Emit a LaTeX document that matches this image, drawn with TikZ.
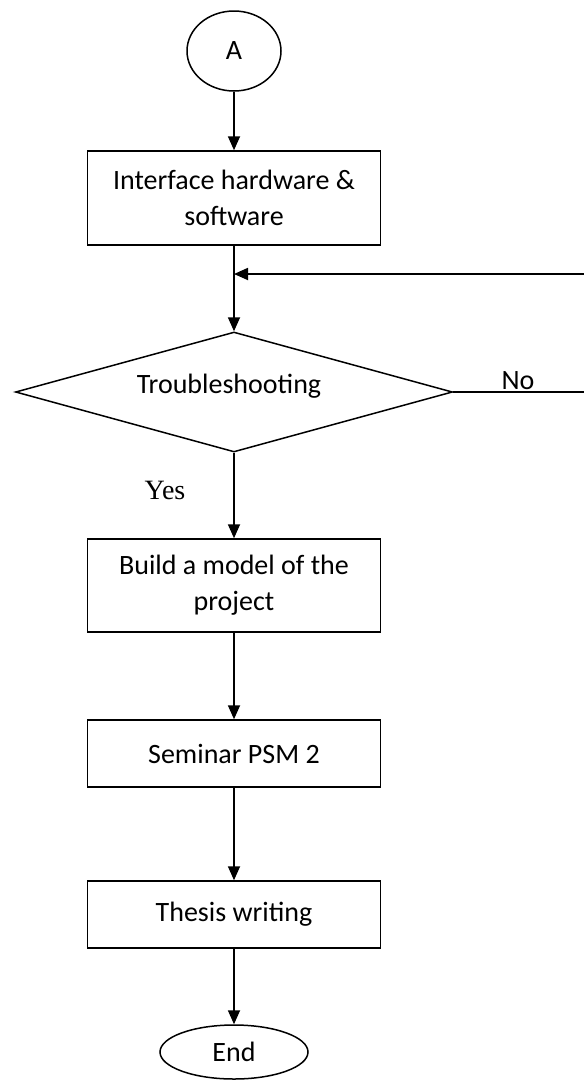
\documentclass[tikz,border=0pt]{standalone}
\usepackage{fontspec}
\setmainfont{Carlito}
\newfontfamily\serifword{Liberation Serif}
\usetikzlibrary{arrows.meta,shapes.geometric}
\begin{document}
\begin{tikzpicture}[x=1pt,y=-1pt,
  every node/.style={font=\fontsize{28}{36}\selectfont},
  stepbox/.style={draw,line width=1.5pt,minimum width=293pt,inner sep=0pt,align=center},
  terminal/.style={ellipse,draw,line width=1.5pt,inner sep=0pt},
  decision/.style={diamond,draw,line width=1.5pt,inner sep=0pt,aspect=3.64,
    minimum width=437pt,minimum height=120pt},
  flow/.style={line width=1.8pt,-{Triangle[length=14pt,width=12pt]}},
  plain/.style={line width=1.8pt}]
\useasboundingbox (0,0) rectangle (584,1080);

% process steps
\node[terminal,minimum width=94pt,minimum height=80pt] (A) at (234,51) {A};
\node[stepbox,minimum height=94pt] (b1) at (234,198) {Interface hardware \&\\software};
\node[decision] (D) at (234,392) {};
\node (Dtext) at (229,386) {Troubleshooting};
\node[stepbox,minimum height=93pt] (b2) at (234,585.5) {Build a model of the\\project};
\node[stepbox,minimum height=67pt] (b3) at (234,753.5) {Seminar PSM 2};
\node[stepbox,minimum height=67pt] (b4) at (234,914.5) {Thesis writing};
\node[terminal,minimum width=148pt,minimum height=54pt] (E) at (234,1052) {End};

% branch labels
\node (no) at (518,381) {No};
\node[font=\serifword\fontsize{28}{36}\selectfont] (yes) at (165,490) {Yes};

% loop-back junction and return path
\coordinate (fb) at (234,274);
\coordinate (r1) at (592,392);
\coordinate (r2) at (592,274);

% connectors
\draw[flow] (A) -- (b1);
\draw[plain] (b1) -- (fb);
\draw[flow] (fb) -- (D);
\draw[plain] (D.east) -- (r1) -- (r2);
\draw[flow] (r2) -- (fb);
\draw[flow] (D) -- (b2);
\draw[flow] (b2) -- (b3);
\draw[flow] (b3) -- (b4);
\draw[flow] (b4) -- (E);
\end{tikzpicture}
\end{document}
